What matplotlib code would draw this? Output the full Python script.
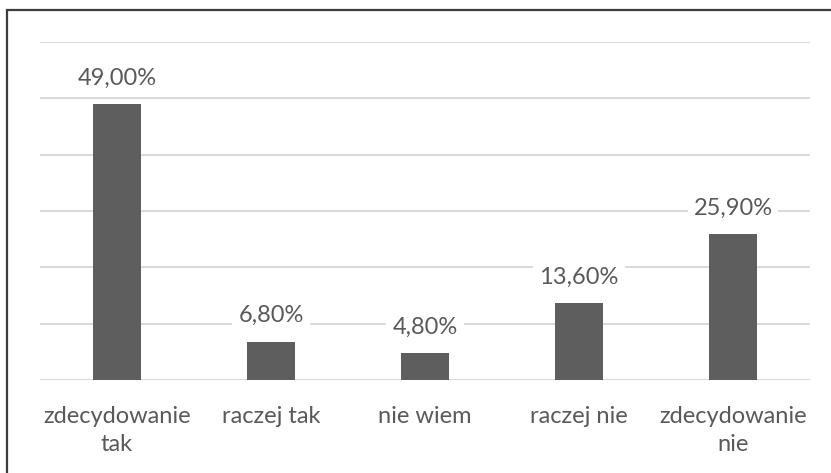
import matplotlib
matplotlib.use("Agg")
import matplotlib.pyplot as plt
from matplotlib.patches import Rectangle

categories = ["zdecydowanie\ntak", "raczej tak", "nie wiem", "raczej nie", "zdecydowanie\nnie"]
values = [49.0, 6.8, 4.8, 13.6, 25.9]
y_ticks = [0, 10, 20, 30, 40, 50, 60]

TEXT = "#595959"
BAR = "#5e5e5e"
GRID = "#d9d9d9"
FONT = ["Lato", "DejaVu Sans"]

W, H = 831, 473
fig = plt.figure(figsize=(W / 100, H / 100), dpi=100)
ax = fig.add_axes([40 / W, (H - 380) / H, 770 / W, 338 / H])

x = list(range(len(categories)))
ax.bar(x, values, width=0.31, color=BAR, zorder=2)
ax.set_xlim(-0.5, len(categories) - 0.5)
ax.set_ylim(0, 60)
ax.set_yticks(y_ticks)
ax.yaxis.grid(True, color=GRID, linewidth=1.4, zorder=0)
ax.tick_params(axis="y", left=False, labelleft=False)
ax.tick_params(axis="x", bottom=False, pad=15)
ax.set_xticks(x)
ax.set_xticklabels(categories, fontsize=17, color=TEXT, family=FONT,
                   linespacing=1.45, va="top")
for s in ax.spines.values():
    s.set_visible(False)

for xi, v in zip(x, values):
    ax.annotate(f"{v:.2f}".replace(".", ",") + "%", (xi, v),
                xytext=(0, 14), textcoords="offset points",
                ha="center", va="baseline", fontsize=17, color=TEXT,
                family=FONT, zorder=3,
                bbox=dict(boxstyle="square,pad=0.25", fc="white", ec="none"))

# chart frame (top and left edges visible)
fig.patches.append(Rectangle((7 / W, -0.1), 1.2, (H - 10) / H + 0.1,
                             transform=fig.transFigure, fill=False,
                             ec="#3c3c3c", lw=1.6))

fig.savefig("out.png", dpi=100)
